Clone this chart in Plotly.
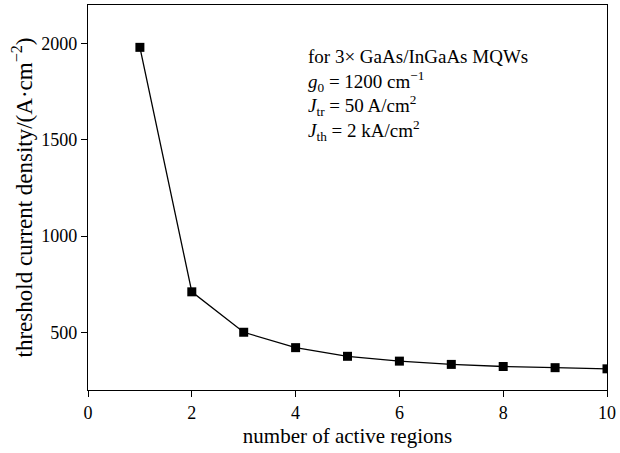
import plotly.graph_objects as go

regions = [1, 2, 3, 4, 5, 6, 7, 8, 9, 10]
threshold = [1980, 710, 500, 420, 375, 350, 333, 322, 316, 310]
x_ticks = [0, 2, 4, 6, 8, 10]
y_ticks = [500, 1000, 1500, 2000]

FONT = "Liberation Serif"

fig = go.Figure()
fig.add_trace(go.Scatter(
    x=regions, y=threshold, mode="lines+markers",
    line=dict(color="black", width=1.3),
    marker=dict(symbol="square", size=9, color="black"),
    showlegend=False,
))

fig.add_annotation(
    xref="x", yref="paper", x=4.2, y=0.9, xanchor="left", yanchor="top",
    align="left", showarrow=False,
    text=("for 3× GaAs/InGaAs MQWs<br>"
          "<i>g</i><sub>0</sub> = 1200 cm<sup>−1</sup><br>"
          "<i>J</i><sub>tr</sub> = 50 A/cm<sup>2</sup><br>"
          "<i>J</i><sub>th</sub> = 2 kA/cm<sup>2</sup>"),
    font=dict(family=FONT, size=19, color="black"),
)

axis_common = dict(
    showline=True, linecolor="black", linewidth=1.2, mirror=True,
    ticks="outside", ticklen=6, tickcolor="black", tickwidth=1.2,
    showgrid=False, zeroline=False, ticklabeloverflow="allow",
    tickfont=dict(family=FONT, size=18, color="black"),
)

fig.update_xaxes(
    range=[0, 10], tickvals=x_ticks,
    title=dict(text="number of active regions", font=dict(family=FONT, size=21, color="black"), standoff=6),
    **axis_common,
)
fig.update_yaxes(
    range=[200, 2200], tickvals=y_ticks,
    title=dict(text="threshold current density/(A·cm<sup>−2</sup>)", font=dict(family=FONT, size=23, color="black"), standoff=2),
    **axis_common,
)

fig.update_layout(
    width=620, height=453,
    margin=dict(l=88, r=8, t=4, b=63),
    plot_bgcolor="white", paper_bgcolor="white",
)

fig.write_html("out.html")
